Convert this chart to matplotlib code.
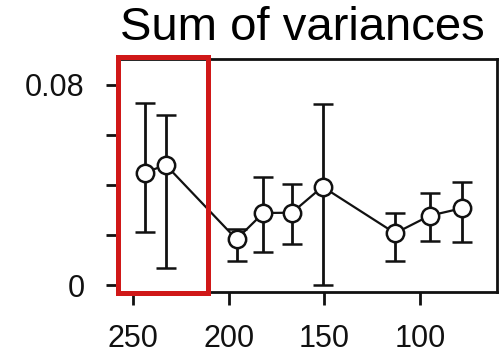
import matplotlib
matplotlib.use('Agg')
import matplotlib.pyplot as plt
from matplotlib.patches import Rectangle
import matplotlib.transforms as mtransforms

# data
x_vals = [244, 233, 196, 182, 167, 151, 113, 95, 78]
means = [0.0449, 0.0480, 0.0183, 0.0288, 0.0289, 0.0393, 0.0207, 0.0277, 0.0307]
upper = [0.0729, 0.0680, 0.0223, 0.0431, 0.0402, 0.0723, 0.0289, 0.0369, 0.0413]
lower = [0.0211, 0.0069, 0.0097, 0.0132, 0.0165, 0.0000, 0.0096, 0.0177, 0.0173]
yticks = [0, 0.02, 0.04, 0.06, 0.08]
ytick_labels = ['0', '', '', '', '0.08']
xticks = [250, 200, 150, 100]
highlight = (211, 258)  # x range of the red box

plt.rcParams['font.family'] = ['Liberation Sans', 'DejaVu Sans']

fig = plt.figure(figsize=(4.99, 3.61), dpi=100)
ax = fig.add_axes([0.2365, 0.191, 0.7595, 0.646])

err = [[m - l for m, l in zip(means, lower)], [u - m for m, u in zip(means, upper)]]
ax.errorbar(x_vals, means, yerr=err, color='#111111', lw=1.6, elinewidth=2.0,
            capsize=7, capthick=2.0, marker='o', ms=12.5, mfc='white', mec='#111111',
            mew=1.8, zorder=3)

ax.set_xlim(258, 59.7)
ax.set_ylim(-0.0028, 0.0904)
ax.set_xticks(xticks)
ax.set_xticklabels([str(t) for t in xticks])
ax.set_yticks(yticks)
ax.set_yticklabels(ytick_labels)
ax.tick_params(axis='both', direction='out', length=9, width=2.0, labelsize=22,
               color='#111111', labelcolor='#111111')
ax.tick_params(axis='y', pad=15)
ax.tick_params(axis='x', pad=14)
for s in ax.spines.values():
    s.set_linewidth(2.0)
    s.set_color('#111111')

ax.set_title('Sum of variances', fontsize=34, pad=13.5, x=0.487)

# red box over the first two points
trans = mtransforms.blended_transform_factory(ax.transData, ax.transAxes)
rect = Rectangle((highlight[0], -0.004), highlight[1] - highlight[0], 1.012,
                 transform=trans, fill=False, edgecolor='#d01818', lw=3.6,
                 clip_on=False, zorder=5)
ax.add_patch(rect)

fig.savefig('out.png', dpi=100)
